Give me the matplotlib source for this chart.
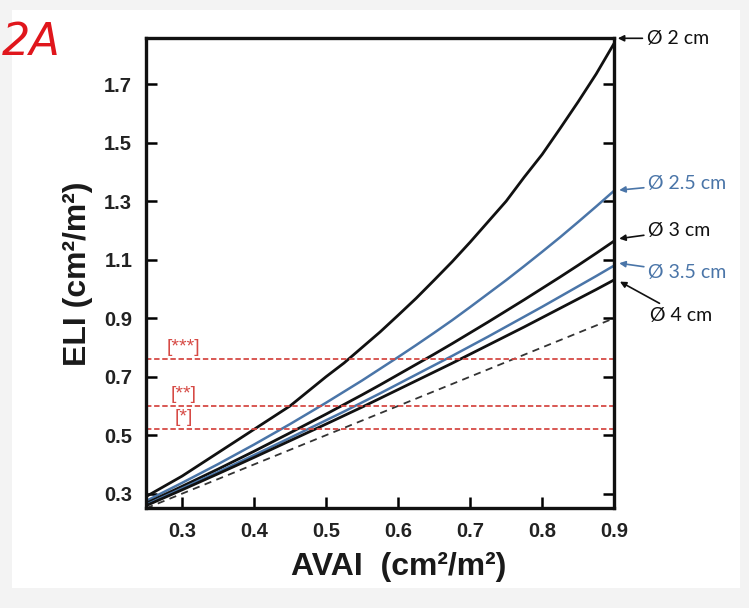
import numpy as np
import matplotlib
matplotlib.use('Agg')
import matplotlib.pyplot as plt
from matplotlib.patches import Rectangle

# AVAI values (x)
avai = [0.25, 0.30, 0.35, 0.40, 0.45, 0.50, 0.525, 0.55, 0.575, 0.60, 0.625, 0.65, 0.675,
        0.70, 0.725, 0.75, 0.775, 0.80, 0.825, 0.85, 0.875, 0.90]

# ELI values for each aortic diameter
eli_2 = [0.29, 0.36, 0.44, 0.52, 0.60, 0.70, 0.747, 0.80, 0.853, 0.91, 0.968, 1.03, 1.093,
         1.16, 1.23, 1.30, 1.382, 1.46, 1.549, 1.64, 1.735, 1.84]
eli_25 = [0.275, 0.337, 0.401, 0.468, 0.538, 0.611, 0.649, 0.687, 0.727, 0.767, 0.808, 0.850, 0.893,
          0.938, 0.984, 1.030, 1.078, 1.127, 1.177, 1.229, 1.282, 1.336]
eli_3 = [0.267, 0.325, 0.384, 0.445, 0.508, 0.572, 0.605, 0.638, 0.672, 0.707, 0.742, 0.777, 0.813,
         0.850, 0.887, 0.925, 0.963, 1.002, 1.041, 1.081, 1.122, 1.164]
eli_35 = [0.262, 0.318, 0.374, 0.432, 0.491, 0.551, 0.581, 0.612, 0.643, 0.675, 0.707, 0.739, 0.771,
          0.804, 0.837, 0.871, 0.905, 0.939, 0.974, 1.009, 1.044, 1.080]
eli_4 = [0.259, 0.313, 0.368, 0.424, 0.481, 0.538, 0.567, 0.596, 0.626, 0.656, 0.686, 0.716, 0.746,
         0.777, 0.808, 0.839, 0.870, 0.902, 0.934, 0.966, 0.998, 1.031]
identity_x = [0.25, 0.90]
identity_y = [0.25, 0.90]

# thresholds (red dashed lines)
thresholds = [0.76, 0.60, 0.52]
threshold_labels = ['[***]', '[**]', '[*]']

labels = ['Ø 2 cm', 'Ø 2.5 cm', 'Ø 3 cm', 'Ø 3.5 cm', 'Ø 4 cm']

black = '#111111'
blue = '#4a75a8'
red = '#d64a45'

W, H = 749, 608
fig = plt.figure(figsize=(W / 100, H / 100), dpi=100)
fig.patch.set_facecolor('#f3f3f3')
# white screenshot panel
panel = Rectangle((12 / W, 1 - 588 / H), 728 / W, 578 / H, transform=fig.transFigure,
                  facecolor='white', edgecolor='none', zorder=-10)
fig.patches.append(panel)

ax = fig.add_axes([0.195, 0.164, 0.625, 0.773])
ax.set_zorder(5)

ax.plot(avai, eli_2, color=black, lw=2.0)
ax.plot(avai, eli_25, color=blue, lw=1.8)
ax.plot(avai, eli_3, color=black, lw=2.0)
ax.plot(avai, eli_35, color=blue, lw=1.8)
ax.plot(avai, eli_4, color=black, lw=2.0)
ax.plot(identity_x, identity_y, color='#333333', lw=1.3, ls=(0, (4, 3)))

for t, lab in zip(thresholds, threshold_labels):
    ax.axhline(t, color=red, lw=1.3, ls=(0, (3, 1.5)))
    ax.text(0.302, t + 0.010, lab, color=red, fontsize=14, ha='center', va='bottom',
            family='Liberation Sans')

ax.set_xlim(0.25, 0.9)
ax.set_ylim(0.25, 1.857)
ax.set_xticks([0.3, 0.4, 0.5, 0.6, 0.7, 0.8, 0.9])
ax.set_yticks([0.3, 0.5, 0.7, 0.9, 1.1, 1.3, 1.5, 1.7])
ax.set_xticklabels(['0.3', '0.4', '0.5', '0.6', '0.7', '0.8', '0.9'])
ax.set_yticklabels(['0.3', '0.5', '0.7', '0.9', '1.1', '1.3', '1.5', '1.7'])
ax.tick_params(direction='in', length=8, width=1.8, right=True, top=False,
               labelsize=14.5, pad=10)
for lab in ax.get_xticklabels() + ax.get_yticklabels():
    lab.set_fontweight('bold')
    lab.set_family('Liberation Sans')
    lab.set_color('#222222')
for s in ax.spines.values():
    s.set_linewidth(2.4)
    s.set_color(black)

ax.set_xlabel('AVAI  (cm²/m²)', fontsize=23, fontweight='bold', family='Liberation Sans',
              labelpad=8, color='#1a1a1a')
ax.xaxis.label.set_x(0.54)
ax.set_ylabel('ELI (cm²/m²)', fontsize=23, fontweight='bold', family='Liberation Sans',
              labelpad=8, color='#1a1a1a')

# right-hand annotations
ann_text_y = [1.857, 1.36, 1.20, 1.055, 0.91]
ann_tip_y = [1.857, 1.338, 1.172, 1.088, 1.025]
ann_text_x = [0.945, 0.947, 0.947, 0.947, 0.950]
ann_tip_x = [0.905, 0.907, 0.907, 0.907, 0.908]
ann_colors = [black, blue, black, blue, black]
for lab, ty, py, tx, px, c in zip(labels, ann_text_y, ann_tip_y, ann_text_x, ann_tip_x, ann_colors):
    ax.annotate(lab, xy=(px, py), xytext=(tx, ty), textcoords='data',
                annotation_clip=False, color=c, fontsize=14, family='Lato',
                ha='left', va='center',
                arrowprops=dict(arrowstyle='-|>', mutation_scale=9, color=c, lw=1.2,
                                shrinkA=1, shrinkB=0))

# red handwritten panel mark
fig.text(0.003, 0.965, '2A', color='#e0161c', fontsize=32, family='DejaVu Sans',
         style='italic', va='top', ha='left', zorder=10)

plt.savefig('out.png', dpi=100, facecolor=fig.get_facecolor())
